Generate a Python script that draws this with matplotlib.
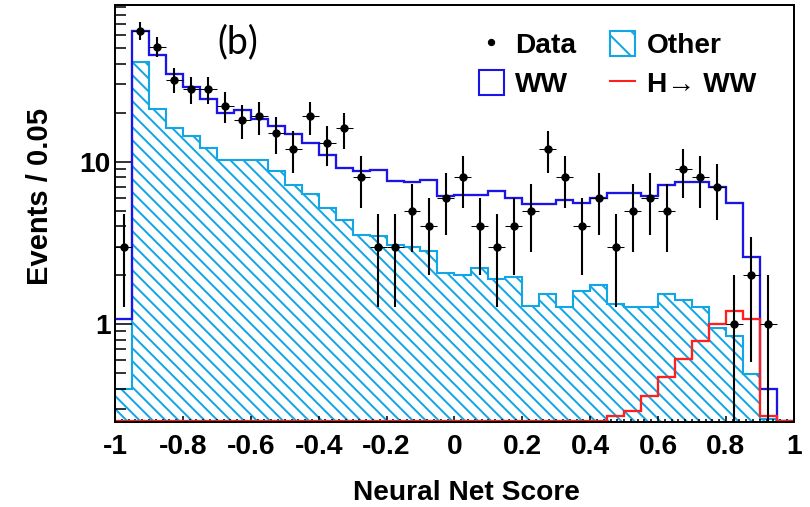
import matplotlib
matplotlib.use("Agg")
import matplotlib.pyplot as plt
import numpy as np
from matplotlib.collections import LineCollection
from matplotlib.lines import Line2D
from matplotlib.patches import Patch
from matplotlib.ticker import FixedLocator, FixedFormatter, LogLocator, MultipleLocator, NullFormatter
from matplotlib.transforms import IdentityTransform

# 40 bins of width 0.05 in the network output
bin_edges = np.linspace(-1.0, 1.0, 41)

data_counts = [3, 64, 51, 32, 28, 28, 22, 18, 19, 15,
               12, 19, 13, 16, 8, 3, 3, 5, 4, 6,
               8, 4, 3, 4, 5, 12, 8, 4, 6, 3,
               5, 6, 5, 9, 8, 7, 1, 2, 1, 0]

other_bkg = [0.40, 41, 21, 16, 14.3, 12.2, 10.3, 10.3, 10.3, 8.7,
             7.2, 6.3, 5.2, 4.4, 3.55, 3.5, 3.05, 3.0, 2.8, 2.05,
             2.0, 2.2, 1.9, 1.95, 1.3, 1.53, 1.27, 1.6, 1.75, 1.32,
             1.27, 1.27, 1.54, 1.4, 1.28, 0.94, 0.84, 0.49, 0.26, 0.0]

ww_bkg = [0.67, 23, 24.4, 18.5, 14.7, 12.0, 9.7, 10.4, 8.0, 7.8,
          7.5, 6.7, 5.8, 4.7, 5.15, 5.4, 4.55, 4.45, 4.95, 4.05,
          4.2, 4.0, 4.65, 4.0, 4.2, 3.97, 4.53, 4.0, 4.25, 5.08,
          5.13, 4.83, 5.66, 6.05, 6.17, 6.06, 4.71, 2.11, 0.14, 0.0]

higgs_ww = [0.0] * 29 + [0.27, 0.29, 0.36, 0.47, 0.61, 0.79, 1.0, 1.21, 1.07, 0.27, 0.0]

x_ticks = [-1.0, -0.8, -0.6, -0.4, -0.2, 0.0, 0.2, 0.4, 0.6, 0.8, 1.0]
x_tick_labels = ["-1", "-0.8", "-0.6", "-0.4", "-0.2", "0", "0.2", "0.4", "0.6", "0.8", "1"]

y_min, y_max = 0.25, 92.0

CYAN = "#12a6e6"
BLUE = "#1a14e6"
RED = "#ff1f1f"

plt.rcParams["font.family"] = ["Liberation Sans", "DejaVu Sans"]
plt.rcParams["font.weight"] = "bold"
plt.rcParams["hatch.linewidth"] = 1.9

fig = plt.figure(figsize=(10.8, 6.76), dpi=75)
ax = fig.add_axes([0.142, 0.168, 0.838, 0.822])
ax.set_yscale("log")
ax.set_xlim(-1.0, 1.0)
ax.set_ylim(y_min, y_max)

other = np.array(other_bkg)
total = other + np.array(ww_bkg)
higgs = np.array(higgs_ww)
counts = np.array(data_counts, dtype=float)
centers = 0.5 * (bin_edges[:-1] + bin_edges[1:])

# stacked backgrounds: hatched "Other" underneath, WW drawn as the stack top
other_patch = ax.stairs(np.maximum(other, y_min), bin_edges, baseline=y_min, fill=True,
                        facecolor="none", edgecolor=CYAN, linewidth=2.0, zorder=1.2)

# diagonal hatching in pixel space, clipped to the "Other" histogram
box = ax.get_window_extent()
step = 13.0
starts = np.arange(box.x0 - box.height, box.x1 + step, step)
segs = [[(x0, box.y1), (x0 + box.height, box.y0)] for x0 in starts]
hatching = LineCollection(segs, colors=CYAN, linewidths=1.9,
                          transform=IdentityTransform(), zorder=1.1)
ax.add_collection(hatching, autolim=False)
hatching.set_clip_path(other_patch)

ax.stairs(np.maximum(total, y_min * 1.01), bin_edges, baseline=None,
          color=BLUE, linewidth=2.2, zorder=2.5)
# signal is drawn on its own, not stacked
ax.stairs(np.maximum(higgs, y_min * 1.01), bin_edges, baseline=None,
          color=RED, linewidth=2.2, zorder=2.6)

# data with Poisson errors
has = counts > 0
ax.errorbar(centers[has], counts[has], xerr=0.025, fmt="none",
            ecolor="black", elinewidth=1.0, zorder=3)
ax.errorbar(centers[has], counts[has], yerr=np.sqrt(counts[has]), fmt="o",
            color="black", ms=7, elinewidth=2.0, capsize=0, zorder=3.1)

ax.xaxis.set_major_locator(FixedLocator(x_ticks))
ax.xaxis.set_major_formatter(FixedFormatter(x_tick_labels))
ax.xaxis.set_minor_locator(MultipleLocator(0.02))
ax.yaxis.set_major_locator(FixedLocator([1, 10]))
ax.yaxis.set_major_formatter(FixedFormatter(["1", "10"]))
ax.yaxis.set_minor_locator(LogLocator(base=10, subs=np.arange(2, 10)))
ax.yaxis.set_minor_formatter(NullFormatter())

ax.tick_params(axis="both", which="both", direction="in", top=False, right=False,
               labelsize=27, width=1.5)
ax.tick_params(axis="x", which="major", length=6, pad=12)
ax.tick_params(axis="x", which="minor", length=3)
ax.tick_params(axis="y", which="major", length=16, pad=4)
ax.tick_params(axis="y", which="minor", length=11)
for spine in ax.spines.values():
    spine.set_linewidth(1.9)
    spine.set_zorder(4)

ax.set_xlabel("Neural Net Score", fontsize=27, fontweight="bold")
ax.xaxis.set_label_coords(0.518, -0.139)
ax.set_ylabel("Events / 0.05", fontsize=28, fontweight="bold")
ax.yaxis.set_label_coords(-0.09, 0.54)

ax.text(0.181, 0.911, "(b)", transform=ax.transAxes, fontsize=36,
        fontweight="normal", family=["Lato", "DejaVu Sans"],
        ha="center", va="center")

handles = [
    Line2D([], [], marker="o", color="black", linestyle="none", ms=6),
    Patch(facecolor="none", edgecolor=BLUE, linewidth=2.0),
    Patch(facecolor="none", edgecolor=CYAN, hatch="\\", linewidth=2.0),
    Line2D([], [], color=RED, linewidth=2.0),
]
labels = ["Data", "WW", "Other", "H\u2192 WW"]
ax.legend(handles, labels, ncol=2, loc="upper left", bbox_to_anchor=(0.515, 0.972),
          frameon=False, fontsize=27, borderpad=0, handlelength=0.9,
          handleheight=1.0, handletextpad=0.4, columnspacing=1.2, labelspacing=0.4)

fig.savefig("out.png", dpi=75)
